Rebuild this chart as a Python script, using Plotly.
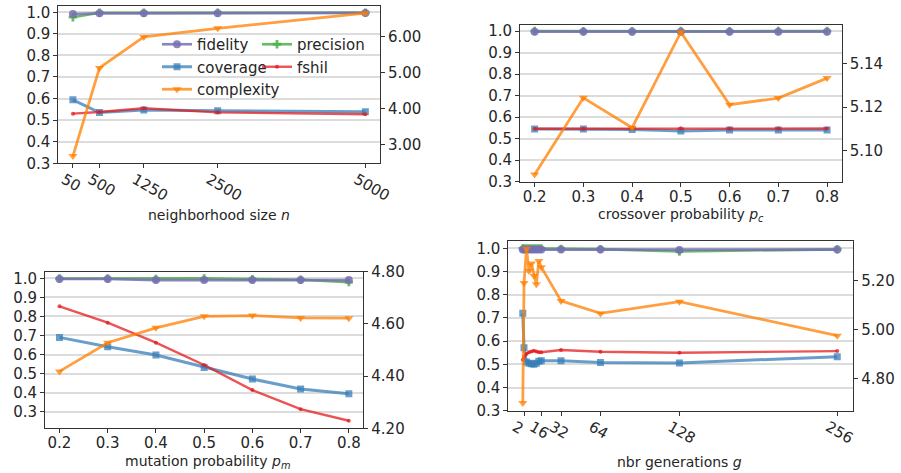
import plotly.graph_objects as go

# ---------------- data ----------------
n_size = [50, 500, 1250, 2500, 5000]
n_fidelity = [0.992, 0.995, 0.995, 0.995, 0.997]
n_precision = [0.977, 0.998, 0.998, 0.998, 0.998]
n_coverage = [0.594, 0.535, 0.547, 0.543, 0.539]
n_fshil = [0.530, 0.538, 0.555, 0.536, 0.527]
n_complexity = [2.69, 5.14, 6.00, 6.24, 6.66]

pc = [0.2, 0.3, 0.4, 0.5, 0.6, 0.7, 0.8]
pc_fidelity = [0.997, 0.997, 0.997, 0.997, 0.997, 0.997, 0.997]
pc_precision = [1.000, 0.999, 0.999, 1.000, 0.999, 1.000, 1.000]
pc_coverage = [0.545, 0.545, 0.543, 0.536, 0.540, 0.540, 0.540]
pc_fshil = [0.546, 0.546, 0.547, 0.548, 0.547, 0.547, 0.547]
pc_complexity = [5.0889, 5.1243, 5.1105, 5.1546, 5.1211, 5.1242, 5.1334]

pm = [0.2, 0.3, 0.4, 0.5, 0.6, 0.7, 0.8]
pm_fidelity = [0.997, 0.997, 0.991, 0.991, 0.991, 0.991, 0.991]
pm_precision = [0.999, 0.999, 0.997, 1.000, 0.996, 0.993, 0.980]
pm_coverage = [0.690, 0.641, 0.597, 0.532, 0.471, 0.419, 0.394]
pm_fshil = [0.853, 0.767, 0.662, 0.545, 0.413, 0.313, 0.252]
pm_complexity = [4.418, 4.528, 4.585, 4.629, 4.632, 4.623, 4.622]

gen = [1, 2, 4, 6, 8, 10, 12, 14, 16, 32, 64, 128, 256]
g_fidelity = [0.995, 0.995, 0.995, 0.995, 0.995, 0.995, 0.995, 0.995, 0.995, 0.995, 0.995, 0.993, 0.995]
g_precision = [1.000, 1.000, 1.000, 1.000, 1.000, 1.000, 1.000, 1.000, 1.000, 0.998, 0.997, 0.987, 0.996]
g_coverage = [0.720, 0.572, 0.510, 0.505, 0.503, 0.500, 0.505, 0.513, 0.515, 0.515, 0.508, 0.506, 0.533]
g_fshil = [0.520, 0.533, 0.545, 0.552, 0.555, 0.559, 0.555, 0.552, 0.552, 0.562, 0.554, 0.550, 0.557]
g_complexity = [4.700, 5.190, 5.330, 5.240, 5.270, 5.220, 5.185, 5.280, 5.255, 5.117, 5.066, 5.114, 4.975]

tick_n = [50, 500, 1250, 2500, 5000]
tick_g = [2, 16, 32, 64, 128, 256]

# ---------------- style ----------------
W, H = 901, 473
FONT = "DejaVu Sans"
TXT = "#262626"
C_FID = "rgba(117,112,179,0.85)"
C_PRE = "rgba(77,175,74,0.85)"
C_COV = "rgba(55,126,184,0.75)"
C_FSH = "rgba(228,26,28,0.75)"
C_CPX = "rgba(255,127,0,0.75)"

series_style = {
    "fidelity": dict(color=C_FID, symbol="circle", size=8, width=2.6),
    "precision": dict(color=C_PRE, symbol="cross", size=7, width=2.6),
    "coverage": dict(color=C_COV, symbol="square", size=7, width=3.0),
    "fshil": dict(color=C_FSH, symbol="circle", size=4, width=2.4),
    "complexity": dict(color=C_CPX, symbol="triangle-down", size=8, width=2.8),
}
legend_of = {"fidelity": "legend", "coverage": "legend", "complexity": "legend",
             "precision": "legend2", "fshil": "legend2"}

# plot areas in pixels: (left, right, top, bottom)
boxes = [
    (58.3, 380.0, 6.0, 163.3),
    (520.0, 841.7, 25.0, 181.7),
    (45.0, 363.3, 271.7, 428.3),
    (508.3, 853.3, 241.0, 410.7),
]

fig = go.Figure()

panels = [
    (n_size, n_fidelity, n_precision, n_coverage, n_fshil, n_complexity),
    (pc, pc_fidelity, pc_precision, pc_coverage, pc_fshil, pc_complexity),
    (pm, pm_fidelity, pm_precision, pm_coverage, pm_fshil, pm_complexity),
    (gen, g_fidelity, g_precision, g_coverage, g_fshil, g_complexity),
]

for k, (xs, fid, pre, cov, fsh, cpx) in enumerate(panels):
    xa = "x" if k == 0 else f"x{k+1}"
    yl = "y" if k == 0 else f"y{2*k+1}"
    yr = f"y{2*k+2}"
    for name, vals, ya in [("precision", pre, yl), ("fidelity", fid, yl),
                           ("coverage", cov, yl), ("fshil", fsh, yl),
                           ("complexity", cpx, yr)]:
        s = series_style[name]
        fig.add_trace(go.Scatter(
            x=xs, y=vals, name=name, xaxis=xa, yaxis=ya,
            mode="lines+markers",
            line=dict(color=s["color"], width=s["width"]),
            marker=dict(color=s["color"], symbol=s["symbol"], size=s["size"],
                        line=dict(width=0)),
            showlegend=(k == 0), legend=legend_of[name],
        ))

axis_common = dict(
    showline=True, linecolor="#333333", linewidth=1,
    ticks="outside", ticklen=4, tickwidth=1, tickcolor="#333333",
    tickfont=dict(family=FONT, size=15, color=TXT),
    zeroline=False, automargin=False,
)

x_ranges = [[-197.5, 5247.5], [0.17, 0.83], [0.17, 0.83], [-10.75, 269.0]]
yl_ranges = [[0.3, 1.029], [0.3, 1.028], [0.2124, 1.035], [0.3, 1.032]]
yr_ranges = [[2.49, 6.86], [5.0856, 5.1579], [4.2, 4.8], [4.668, 5.362]]
yr_ticks = [[3, 4, 5, 6], [5.10, 5.12, 5.14], [4.2, 4.4, 4.6, 4.8], [4.8, 5.0, 5.2]]
x_ticks = [tick_n, pc, pm, tick_g]
x_angles = [30, 0, 0, 30]
x_shift = [-9, 0, 0, -9]

layout = dict(
    template="none",
    width=W, height=H, margin=dict(l=0, r=0, t=0, b=0, pad=0, autoexpand=False),
    paper_bgcolor="white", plot_bgcolor="white",
    font=dict(family=FONT, size=15, color=TXT),
)

for k, (l, r, t, b) in enumerate(boxes):
    xk = "xaxis" if k == 0 else f"xaxis{k+1}"
    ylk = "yaxis" if k == 0 else f"yaxis{2*k+1}"
    yrk = f"yaxis{2*k+2}"
    yl_id = "y" if k == 0 else f"y{2*k+1}"
    x_id = "x" if k == 0 else f"x{k+1}"
    dx = [l / W, r / W]
    dy = [1 - b / H, 1 - t / H]
    layout[xk] = dict(axis_common, domain=dx, range=x_ranges[k], anchor=yl_id,
                      mirror=True, showgrid=False,
                      tickmode="array", tickvals=x_ticks[k],
                      ticktext=[str(v) for v in x_ticks[k]],
                      tickangle=x_angles[k], ticklabelshift=x_shift[k],
                      ticklabelstandoff=-3)
    layout[ylk] = dict(axis_common, domain=dy, range=yl_ranges[k], anchor=x_id,
                       tickmode="array",
                       tickvals=[0.3, 0.4, 0.5, 0.6, 0.7, 0.8, 0.9, 1.0],
                       ticktext=["0.3", "0.4", "0.5", "0.6", "0.7", "0.8", "0.9", "1.0"],
                       showgrid=True, gridcolor="#dcdcdc", gridwidth=1.5)
    layout[yrk] = dict(axis_common, range=yr_ranges[k], anchor=x_id,
                       overlaying=yl_id, side="right", showgrid=False,
                       tickmode="array", tickvals=yr_ticks[k],
                       ticktext=[f"{v:.2f}" for v in yr_ticks[k]])

layout["legend"] = dict(x=157 / W, y=1 - 28 / H, xanchor="left", yanchor="top",
                        bgcolor="rgba(0,0,0,0)", font=dict(family=FONT, size=15, color=TXT),
                        tracegroupgap=0, itemwidth=30)
layout["legend2"] = dict(x=257 / W, y=1 - 28 / H, xanchor="left", yanchor="top",
                         bgcolor="rgba(0,0,0,0)", font=dict(family=FONT, size=15, color=TXT),
                         tracegroupgap=0, itemwidth=30)

titles = [
    ("neighborhood size <i>n</i>", 219, 215),
    ("crossover probability <i>p</i><sub><i>c</i></sub>", 681, 215),
    ("mutation probability <i>p</i><sub><i>m</i></sub>", 207, 461.7),
    ("nbr generations <i>g</i>", 679, 461.7),
]
layout["annotations"] = [
    dict(text=tx, x=cx / W, y=1 - cy / H, xref="paper", yref="paper",
         xanchor="center", yanchor="middle", showarrow=False,
         font=dict(family=FONT, size=14, color=TXT))
    for tx, cx, cy in titles
]

fig.update_layout(**layout)
fig.write_html("out.html",
               config={"displayModeBar": False},
               post_script="document.body.style.margin='0';document.body.style.overflow='hidden';")
